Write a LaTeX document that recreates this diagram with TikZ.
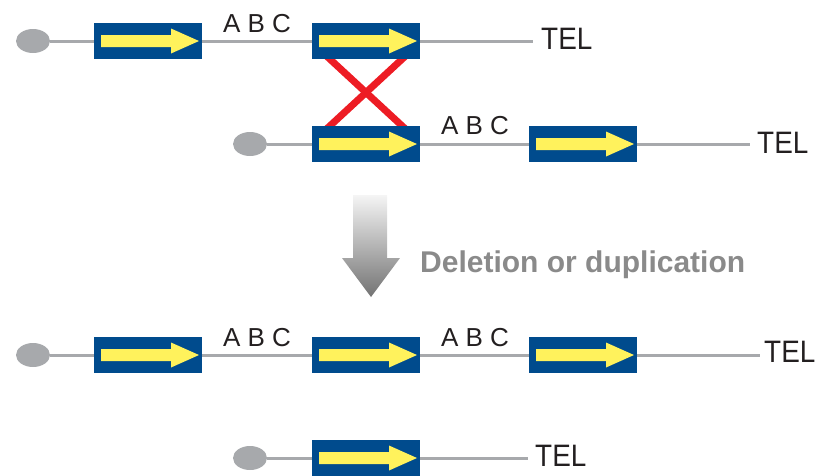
\documentclass[tikz,border=0pt]{standalone}
\usepackage{fontspec}
\setmainfont{Liberation Sans}
\newfontfamily\narrowsans[FakeStretch=0.9]{Liberation Sans}
\usetikzlibrary{shapes.geometric,backgrounds}

\definecolor{geneblue}{HTML}{004B8D}
\definecolor{geneyellow}{HTML}{FFF25C}
\definecolor{strand}{HTML}{A7A9AC}
\definecolor{crossred}{HTML}{ED1C24}
\definecolor{ink}{HTML}{231F20}
\definecolor{notegray}{HTML}{8A8A8A}

\tikzset{
  segment/.style={rectangle, fill=geneblue, minimum width=108pt, minimum height=36pt,
    inner sep=0pt,
    path picture={
      \fill[geneyellow] ([shift={(-47pt,6pt)}]path picture bounding box.center)
        -- ++(70pt,0pt) -- ++(0pt,6.5pt) -- ++(28pt,-12.5pt) -- ++(-28pt,-12.5pt)
        -- ++(0pt,6.5pt) -- ++(-70pt,0pt) -- cycle;
    }},
  centromere/.style={ellipse, fill=strand, minimum width=34pt, minimum height=24pt, inner sep=0pt},
  strandline/.style={draw=strand, line width=3pt},
  crossover/.style={draw=crossred, line width=7pt},
  tel/.style={anchor=west, inner sep=0pt, text=ink, font=\narrowsans\fontsize{31}{36}\selectfont},
  abc/.style={inner sep=0pt, text=ink, font=\fontsize{26}{30}\selectfont},
  note/.style={anchor=base west, inner sep=0pt, text=notegray, font=\bfseries\fontsize{30}{36}\selectfont},
}

\begin{document}
\begin{tikzpicture}[x=1pt,y=-1pt]
\useasboundingbox (0,0) rectangle (817,475);

% first chromatid
\node[centromere] (c1) at (33,41) {};
\node[segment] (a1) at (148,41) {};
\node[segment] (a2) at (366,41) {};
\coordinate (e1) at (533,41);
\node[tel] (t1) at (541,39) {TEL};
\node[abc] (l1) at (257,24) {A B C};

% second chromatid, shifted by one repeat
\node[centromere] (c2) at (250,144) {};
\node[segment] (b1) at (366,144) {};
\node[segment] (b2) at (583,144) {};
\coordinate (e2) at (750,144);
\node[tel] (t2) at (757,143) {TEL};
\node[abc] (l2) at (475,126) {A B C};

% duplication product
\node[centromere] (c3) at (33,355) {};
\node[segment] (d1) at (148,355) {};
\node[segment] (d2) at (366,355) {};
\node[segment] (d3) at (583,355) {};
\coordinate (e3) at (760,355);
\node[tel] (t3) at (764,352) {TEL};
\node[abc] (l3) at (257,338) {A B C};
\node[abc] (l4) at (475,338) {A B C};

% deletion product
\node[centromere] (c4) at (250,458) {};
\node[segment] (f1) at (366,458) {};
\coordinate (e4) at (528,458);
\node[tel] (t4) at (535,456) {TEL};

\begin{scope}[on background layer]
  \draw[strandline] (c1) -- (a1) -- (a2) -- (e1);
  \draw[strandline] (c2) -- (b1) -- (b2) -- (e2);
  \draw[strandline] (c3) -- (d1) -- (d2) -- (d3) -- (e3);
  \draw[strandline] (c4) -- (f1) -- (e4);
  % unequal crossing-over between the misaligned repeats
  \draw[crossover] ([shift={(-41.4pt,5pt)}]a2.south) -- ([shift={(41.4pt,-5pt)}]b1.north);
  \draw[crossover] ([shift={(41.4pt,5pt)}]a2.south) -- ([shift={(-41.4pt,-5pt)}]b1.north);
\end{scope}

% outcome arrow
\shade[top color=black!4, bottom color=black!55]
  (353,195) -- (387,195) -- (387,258) -- (400,258) -- (371,297)
  -- (342,258) -- (353,258) -- cycle;
\node[note] (n1) at (420,272) {Deletion or duplication};
\end{tikzpicture}
\end{document}
